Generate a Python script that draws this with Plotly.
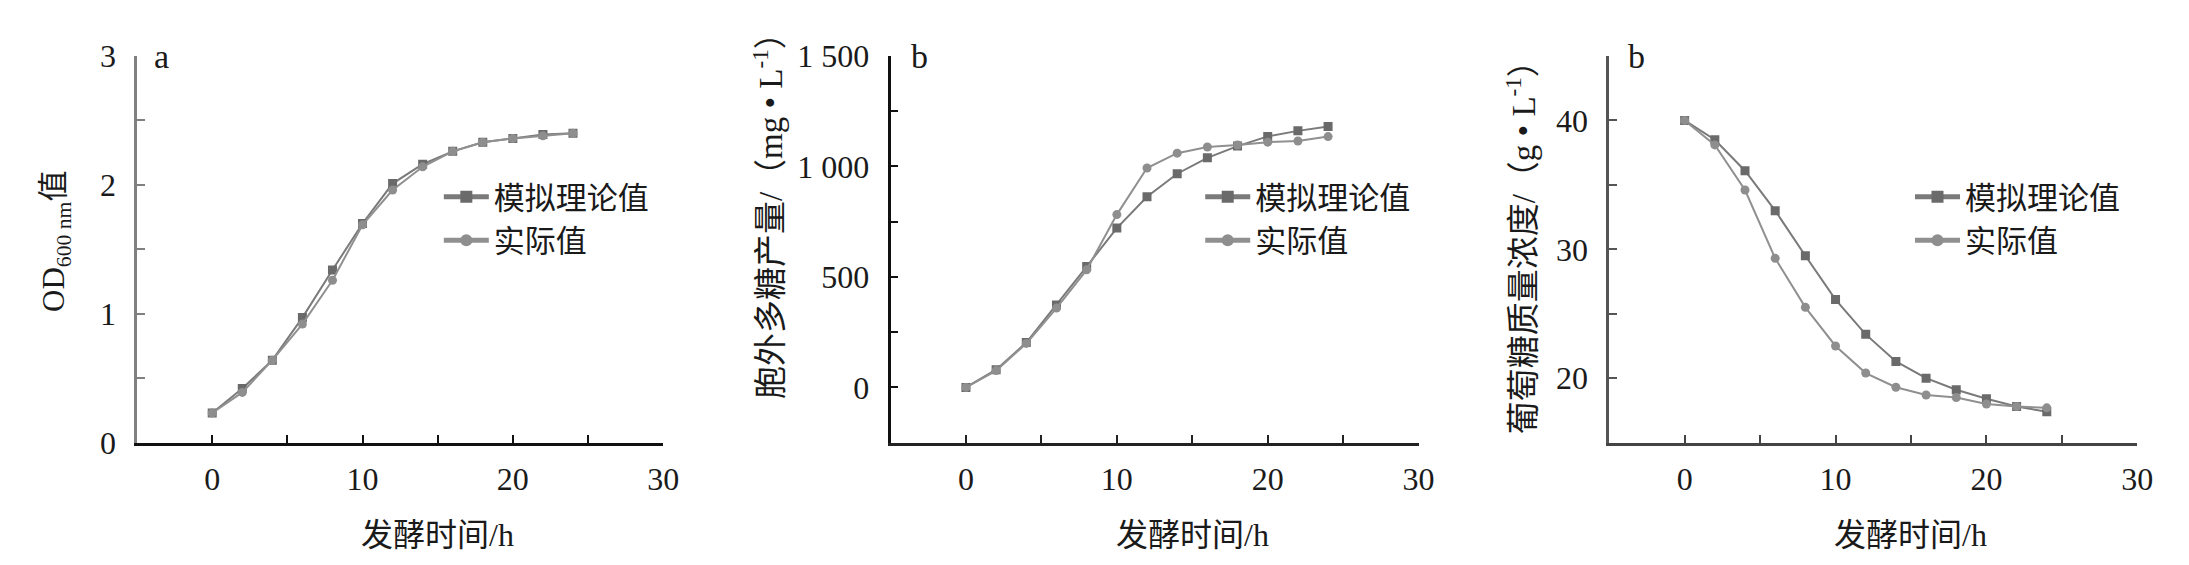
import plotly.graph_objects as go

# ---------------- data ----------------
time_h = [0, 2, 4, 6, 8, 10, 12, 14, 16, 18, 20, 22, 24]

od_theory = [0.23, 0.42, 0.64, 0.97, 1.34, 1.70, 2.01, 2.16, 2.26, 2.33, 2.36, 2.39, 2.40]
od_actual = [0.23, 0.39, 0.64, 0.92, 1.26, 1.69, 1.96, 2.14, 2.26, 2.33, 2.36, 2.38, 2.40]

eps_theory = [0, 80, 203, 373, 547, 721, 863, 967, 1039, 1092, 1136, 1161, 1181]
eps_actual = [0, 76, 199, 359, 532, 782, 993, 1060, 1088, 1097, 1110, 1115, 1135]

glc_theory = [40, 38.5, 36.1, 33.0, 29.5, 26.1, 23.4, 21.3, 20.0, 19.1, 18.4, 17.8, 17.4]
glc_actual = [40, 38.1, 34.6, 29.3, 25.5, 22.5, 20.4, 19.3, 18.7, 18.5, 18.0, 17.8, 17.7]

name_theory = "模拟理论值"
name_actual = "实际值"

x_tickvals = [0, 10, 20, 30]
x_ticktext = ["0", "10", "20", "30"]
x_minorvals = [5, 15, 25]

od_tickvals = [0, 1, 2, 3]
od_ticktext = ["0", "1", "2", "3"]
od_minorvals = [0.5, 1.5, 2.5]

eps_tickvals = [0, 500, 1000, 1500]
eps_ticktext = ["0", "500", "1 000", "1 500"]
eps_minorvals = [250, 750, 1250]

glc_tickvals = [20, 30, 40]
glc_ticktext = ["20", "30", "40"]
glc_minorvals = [25, 35, 45]

panel_labels = ["a", "b", "b"]
x_title = "发酵时间/h"
y_titles = ["OD<sub>600 nm</sub>值",
            "胞外多糖产量/（mg • L<sup>-1</sup>）",
            "葡萄糖质量浓度/（g • L<sup>-1</sup>）"]

# ---------------- style ----------------
W, H = 2189, 565
SERIF = "Liberation Serif, Times New Roman, Noto Sans CJK SC, serif"
TXT = "#1a1a1a"
C_THEORY_LINE = "#7a7a7a"
C_THEORY_MK = "#6a6a6a"
C_ACTUAL_LINE = "#909090"
C_ACTUAL_MK = "#8e8e8e"


def px(x):
    return x / W


def py(y):
    return 1 - y / H


fig = go.Figure()

panels = [
    dict(theory=od_theory, actual=od_actual, xd=(130, 660), yr=[0, 3],
         tv=od_tickvals, tt=od_ticktext, mv=od_minorvals,
         ylc="#808080", xlc="#111111", legend="legend"),
    dict(theory=eps_theory, actual=eps_actual, xd=(889, 1421), yr=[-250, 1500],
         tv=eps_tickvals, tt=eps_ticktext, mv=eps_minorvals,
         ylc="#111111", xlc="#222222", legend="legend2"),
    dict(theory=glc_theory, actual=glc_actual, xd=(1613, 2145), yr=[15, 45],
         tv=glc_tickvals, tt=glc_ticktext, mv=glc_minorvals,
         ylc="#555555", xlc="#444444", legend="legend3"),
]

y_top, y_bot = 32, 445

for i, p in enumerate(panels):
    k = "" if i == 0 else str(i + 1)
    xa, ya = "x" + k, "y" + k
    fig.add_trace(go.Scatter(
        x=time_h, y=p["theory"], mode="lines+markers", name=name_theory,
        line=dict(color=C_THEORY_LINE, width=2),
        marker=dict(symbol="square", size=9, color=C_THEORY_MK),
        xaxis=xa, yaxis=ya, legend=p["legend"]))
    fig.add_trace(go.Scatter(
        x=time_h, y=p["actual"], mode="lines+markers", name=name_actual,
        line=dict(color=C_ACTUAL_LINE, width=2),
        marker=dict(symbol="circle", size=9, color=C_ACTUAL_MK),
        xaxis=xa, yaxis=ya, legend=p["legend"]))

    fig.update_layout(**{
        "xaxis" + k: dict(
            domain=[px(p["xd"][0]), px(p["xd"][1])], range=[-5, 30],
            anchor=ya, tickmode="array", tickvals=x_tickvals, ticktext=x_ticktext,
            ticks="inside", ticklen=8, tickwidth=2, tickcolor=p["xlc"],
            minor=dict(tickvals=x_minorvals, ticks="inside", ticklen=8,
                       tickwidth=2, tickcolor=p["xlc"], showgrid=False),
            showline=True, linecolor=p["xlc"], linewidth=2.5,
            showgrid=False, zeroline=False,
            tickfont=dict(family=SERIF, size=32, color=TXT),
            ticklabelstandoff=6),
        "yaxis" + k: dict(
            domain=[py(y_bot), py(y_top)], range=p["yr"],
            anchor=xa, tickmode="array", tickvals=p["tv"], ticktext=p["tt"],
            ticks="inside", ticklen=8, tickwidth=2, tickcolor=p["ylc"],
            minor=dict(tickvals=p["mv"], ticks="inside", ticklen=8,
                       tickwidth=2, tickcolor=p["ylc"], showgrid=False),
            showline=True, linecolor=p["ylc"], linewidth=2.5,
            showgrid=False, zeroline=False,
            tickfont=dict(family=SERIF, size=32, color=TXT),
            ticklabelstandoff=12),
    })

legend_common = dict(
    font=dict(family=SERIF, size=31, color=TXT),
    bgcolor="rgba(0,0,0,0)", borderwidth=0,
    xanchor="left", yanchor="top", tracegroupgap=0, itemsizing="constant",
    itemwidth=45,
)
fig.update_layout(
    legend=dict(x=px(434), y=py(154), **legend_common),
    legend2=dict(x=px(1201), y=py(154), **legend_common),
    legend3=dict(x=px(1916), y=py(154), **legend_common),
)

annotations = []
label_pos = [(155, 33), (918, 33), (1640, 33)]
for lbl, (lx, ly) in zip(panel_labels, label_pos):
    annotations.append(dict(text=lbl, x=px(lx), y=py(ly), xref="paper", yref="paper",
                            showarrow=False, xanchor="center", yanchor="middle",
                            font=dict(family=SERIF, size=34, color=TXT)))

for i in range(3):
    k = "" if i == 0 else str(i + 1)
    annotations.append(dict(text=x_title, x=15, y=py(544), xref="x" + k, yref="paper",
                            showarrow=False, xanchor="center", yanchor="middle",
                            font=dict(family=SERIF, size=32, color=TXT)))

ytitle_pos = [(49, 230), (765, 194), (1525, 228)]
ytitle_size = [31, 33, 33]
for t, (tx, ty), fs in zip(y_titles, ytitle_pos, ytitle_size):
    annotations.append(dict(text=t, x=px(tx), y=py(ty), xref="paper", yref="paper",
                            showarrow=False, textangle=-90, xanchor="center", yanchor="middle",
                            font=dict(family=SERIF, size=fs, color=TXT)))

fig.update_layout(
    width=W, height=H,
    margin=dict(l=0, r=0, t=0, b=0),
    paper_bgcolor="white", plot_bgcolor="white",
    annotations=annotations,
    showlegend=True,
)

fig.write_html("out.html")
